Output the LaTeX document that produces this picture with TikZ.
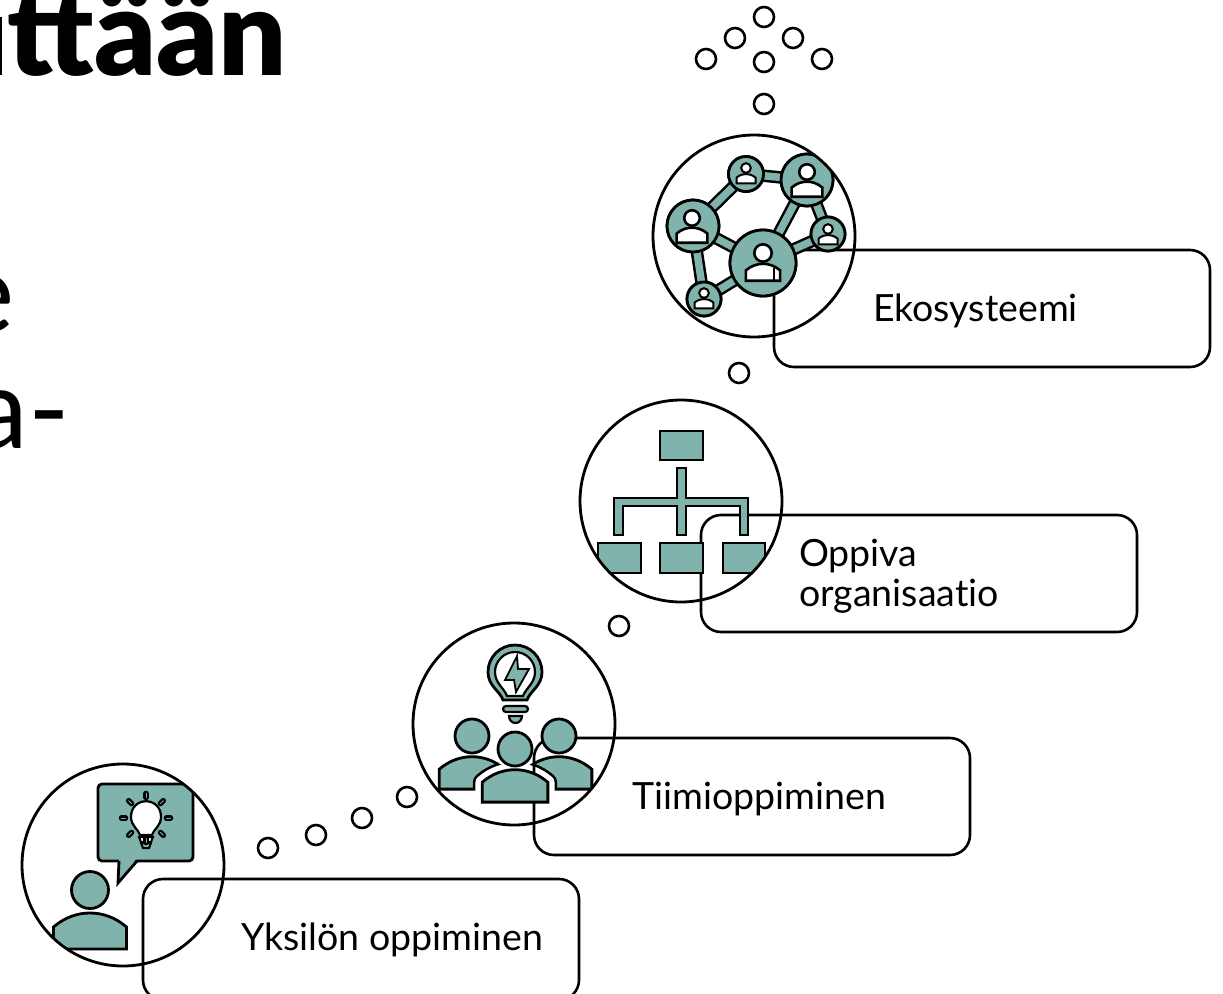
\documentclass[tikz,border=0pt]{standalone}
\usepackage{fontspec}
\usetikzlibrary{calc}
\setmainfont[Ligatures=NoCommon]{Lato}
\newfontfamily\blackf{Lato Black}
\definecolor{teal1}{HTML}{7FB3AB}
\tikzset{
  ring/.style={circle,draw=black,line width=2.8pt,minimum size=202pt,inner sep=0pt},
  dot/.style={circle,draw=black,fill=white,line width=2.6pt,minimum size=20pt,inner sep=0pt},
  card/.style={draw=black,line width=2.6pt,rounded corners=20pt},
  ico/.style={draw=black,fill=teal1,line width=2.8pt,line join=miter},
  hole/.style={draw=black,fill=white,line width=2.2pt},
  netnode/.style={circle,draw=black,fill=teal1,line width=2.8pt,inner sep=0pt},
  lbl/.style={anchor=base west,inner sep=0pt,font=\fontsize{37.5}{40}\selectfont,align=left},
  lout/.style={draw=black,line width=12.5pt},
  lin/.style={draw=teal1,line width=7.5pt},
}
\newcommand\bodyshape{(-36.5,59) -- (-36.5,37) .. controls (-25,27) and (-12,23) .. (0,23) .. controls (12,23) and (25,27) .. (36.5,37) -- (36.5,59) -- cycle}
\newcommand\netperson[4]{\begin{scope}[shift={(#1,#2)},scale=#3]
  \path[hole,line width=#4] (0,0) circle (18.5);
  \path[hole,line width=#4] \bodyshape;
\end{scope}}
\begin{document}
\begin{tikzpicture}[x=1pt,y=-1pt]
\clip (0,0) rectangle (1223,993);
% heading fragments
\fill[black] (0,17) rectangle (2,75);
\node[anchor=base east,inner sep=0pt,font=\blackf\fontsize{120}{120}\selectfont] (title) at (287,75) {ttään};
\node[anchor=base east,inner sep=0pt,font=\fontsize{112}{112}\selectfont] (frage) at (15,332) {e};
\node[anchor=base east,inner sep=0pt,font=\fontsize{112}{112}\selectfont] (fraga) at (70,448) {a-};
% trail of dots
\foreach \n/\x/\y in {a/764/17,b/735/38,c/793/38,d/706/59,e/764/62,f/822/59,g/764/104,h/739/373,i/619/626,j/407/797,k/362/818,l/316/835,m/268/848}
  \node[dot] (dot\n) at (\x,\y) {};
% ---------- Individual ----------
\draw[card] (143,879) rectangle (579,1000);
\node[lbl] (l1) at (241,950) {Yksilön oppiminen};
\begin{scope}
  \clip (123,865) circle (101);
  \path[ico,rounded corners=4pt] (98,784) rectangle (193,861);
  \fill[teal1] (119,858) -- (137,858) -- (118,883) -- cycle;
  \draw[line width=2.8pt] (119,861) -- (118,883) -- (137,861);
  \path[ico] (90,890) circle (18.5);
  \begin{scope}[shift={(90,890)}] \path[ico] \bodyshape; \end{scope}
  % lamp
  \path[hole] (140,835) .. controls (139,830) and (131,826) .. (131,817) .. controls (131,796) and (161,796) .. (161,817) .. controls (161,826) and (153,830) .. (152,835) -- cycle;
  \draw[line width=2pt,fill=white] (139,837) -- (153,837) -- (151,842) -- (141,842) -- cycle;
  \draw[line width=2pt,fill=teal1] (141,843) -- (151,843) -- (149,848) -- (143,848) -- cycle;
  \foreach \a in {0,45,...,315}
    \draw[line width=5.5pt,line cap=round,black] ($(146,818)+(\a:20.5)$) -- ($(146,818)+(\a:24.5)$);
  \foreach \a in {0,45,...,315}
    \draw[line width=.9pt,line cap=round,teal1] ($(146,818)+(\a:20.5)$) -- ($(146,818)+(\a:24.5)$);
\end{scope}
\node[ring] (c1) at (123,865) {};
% ---------- Team ----------
\begin{scope}
  \clip (514,724) circle (101);
  \begin{scope}[shift={(472,736)},scale=.9] \path[ico] \bodyshape; \end{scope}
  \begin{scope}[shift={(559,736)},scale=.9] \path[ico] \bodyshape; \end{scope}
  \begin{scope}[shift={(472,736)},scale=.9]
    \clip \bodyshape;
    \begin{scope}[shift={(47.8,14.4)}] \path[draw=black,line join=round,line width=18.6pt] \bodyshape; \end{scope}
  \end{scope}
  \begin{scope}[shift={(559,736)},scale=.9]
    \clip \bodyshape;
    \begin{scope}[shift={(-48.9,14.4)}] \path[draw=black,line join=round,line width=18.6pt] \bodyshape; \end{scope}
  \end{scope}
  \begin{scope}[shift={(515,749)},scale=.9] \path[draw=white,fill=white,line join=round,line width=13.4pt] \bodyshape; \end{scope}
\end{scope}
\draw[card] (534,738) rectangle (970,855);
\begin{scope}
  \clip (514,724) circle (101);
  \begin{scope}[shift={(515,749)},scale=.9] \path[ico] \bodyshape; \end{scope}
  \path[ico] (472,736) circle (17);
  \path[ico] (559,736) circle (17);
  \path[ico] (515,749) circle (17);
  % lightbulb
  \path[ico] (503,700) .. controls (500,691) and (488,686) .. (488,672) arc[start angle=180,end angle=360,radius=27] .. controls (542,686) and (530,691) .. (527,700) -- cycle;
  \path[hole] (507,696) .. controls (504,688) and (495,683) .. (495,672) arc[start angle=180,end angle=360,radius=20] .. controls (535,683) and (526,688) .. (523,696) -- cycle;
  \path[ico,line width=1.8pt] (517,656) -- (505,680) -- (514,680) -- (516,692) -- (529,669) -- (518,669) -- cycle;
  \path[ico,rounded corners=3pt,line width=2.2pt] (503,706) rectangle (528,712);
  \path[ico,line width=2.2pt] (509,716) -- (522,716) arc[start angle=0,end angle=180,x radius=6.5,y radius=7] -- cycle;
\end{scope}
\node[ring] (c2) at (514,724) {};
\node[lbl] (l2) at (632,809) {Tiimioppiminen};
% ---------- Organisation ----------
\draw[card] (701,515) rectangle (1137,632);
\begin{scope}
  \clip (681,501) circle (101);
  \path[ico] (660,431) rectangle (703,460);
  \path[ico] (677,468) -- (686,468) -- (686,498) -- (748,498) -- (748,535) -- (740,535) -- (740,506) -- (686,506) -- (686,535) -- (677,535) -- (677,506) -- (623,506) -- (623,535) -- (614,535) -- (614,498) -- (677,498) -- cycle;
  \path[ico] (598,543) rectangle (641,573);
  \path[ico] (660,543) rectangle (703,573);
  \path[ico] (723,543) rectangle (765,573);
\end{scope}
\node[ring] (c3) at (681,501) {};
\node[lbl,anchor=base west] (l3a) at (799,566) {Oppiva};
\node[lbl,anchor=base west] (l3b) at (799,606) {organisaatio};
% ---------- Ecosystem ----------
\draw[card] (774,250) rectangle (1210,367);
\begin{scope}
  \clip (754,236) circle (101);
  \path (763,263) node[netnode,minimum size=66pt] (nbig) {}
        (807,180) node[netnode,minimum size=52pt] (ntr) {}
        (693,226) node[netnode,minimum size=52pt] (nl) {}
        (746,174) node[netnode,minimum size=35pt] (nt) {}
        (828,234) node[netnode,minimum size=34pt] (nr) {}
        (704,299) node[netnode,minimum size=34pt] (nb) {};
  \foreach \u/\v in {nt/nl,nt/ntr,ntr/nbig,ntr/nr,nbig/nr,nbig/nl,nl/nb,nb/nbig}
    \draw[lout] (\u.center) -- (\v.center);
  \foreach \u/\v in {nt/nl,nt/ntr,ntr/nbig,ntr/nr,nbig/nr,nbig/nl,nl/nb,nb/nbig}
    \draw[lin] (\u.center) -- (\v.center);
  \foreach \n/\d in {nbig/66,ntr/52,nl/52,nt/35,nr/34,nb/34}
    \path (\n.center) node[netnode,minimum size=\d pt] {};
  \netperson{763}{253}{.47}{2.6pt}
  \netperson{807}{172}{.42}{2.6pt}
  \netperson{692}{218}{.42}{2.6pt}
  \netperson{746}{168}{.26}{2pt}
  \netperson{828}{229}{.26}{2pt}
  \netperson{704}{293}{.26}{2pt}
  \draw[line width=2.2pt] (774,268) -- (774,280);
\end{scope}
\node[ring] (c4) at (754,236) {};
\node[lbl] (l4) at (873,321) {Ekosysteemi};
\end{tikzpicture}
\end{document}
